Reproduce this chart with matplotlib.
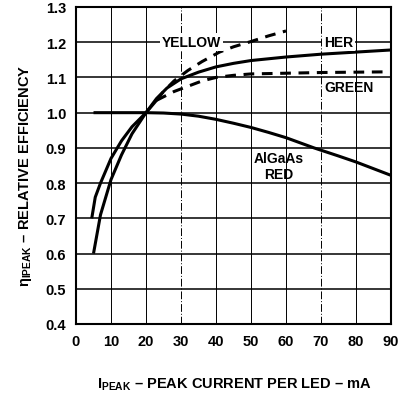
import matplotlib
matplotlib.use("Agg")
import matplotlib.pyplot as plt

plt.rcParams['font.family'] = ['Liberation Sans', 'DejaVu Sans']
plt.rcParams['font.weight'] = 'bold'
plt.rcParams['mathtext.fontset'] = 'custom'
plt.rcParams['mathtext.rm'] = 'Liberation Sans:bold'
plt.rcParams['mathtext.it'] = 'Liberation Sans:bold'
plt.rcParams['mathtext.bf'] = 'Liberation Sans:bold'

# HER (solid)
her_x = [4.5, 5.5, 7, 10, 13, 16, 20, 23, 26, 30, 35, 40, 45, 50, 60, 70, 80, 90]
her_y = [0.70, 0.76, 0.80, 0.87, 0.92, 0.96, 1.00, 1.04, 1.07, 1.096, 1.115, 1.13, 1.14, 1.148, 1.158, 1.166, 1.172, 1.178]
# common solid start of YELLOW / GREEN
low_x = [5, 7, 10, 13, 16, 20, 23]
low_y = [0.60, 0.71, 0.81, 0.88, 0.94, 1.00, 1.035]
# YELLOW (dashed)
yel_x = [23, 25, 28, 32, 36, 41, 45, 50, 55, 60]
yel_y = [1.035, 1.06, 1.09, 1.12, 1.145, 1.172, 1.187, 1.202, 1.218, 1.232]
# GREEN (dashed)
grn_x = [23, 25, 28, 32, 36, 40, 45, 50, 60, 70, 80, 90]
grn_y = [1.035, 1.045, 1.06, 1.075, 1.09, 1.10, 1.106, 1.11, 1.112, 1.114, 1.115, 1.116]
# AlGaAs RED (solid)
red_x = [5, 10, 20, 25, 30, 35, 40, 45, 50, 55, 60, 68, 75, 80, 90]
red_y = [1.0, 1.0, 1.0, 0.999, 0.996, 0.99, 0.981, 0.97, 0.958, 0.944, 0.929, 0.90, 0.877, 0.86, 0.822]

xticks = [0, 10, 20, 30, 40, 50, 60, 70, 80, 90]
yticks = [0.4, 0.5, 0.6, 0.7, 0.8, 0.9, 1.0, 1.1, 1.2, 1.3]

fig = plt.figure(figsize=(4.05, 4.02), dpi=100)
ax = fig.add_axes([76/405, 1 - 325/402, (391-76)/405, (325-8)/402])
ax.set_xlim(0, 90)
ax.set_ylim(0.4, 1.3)

for xv in xticks[1:-1]:
    ls = (0, (8, 2, 1, 2)) if xv in (30, 70) else '-'
    ax.axvline(xv, color='black', lw=0.7, ls=ls, zorder=1)
for yv in yticks[1:-1]:
    ax.axhline(yv, color='black', lw=1.1, zorder=1)

ax.plot(her_x, her_y, color='black', lw=2.2, zorder=3, solid_capstyle='butt')
ax.plot(low_x, low_y, color='black', lw=2.2, zorder=3, solid_capstyle='butt')
ax.plot(yel_x, yel_y, color='black', lw=2.2, ls=(0, (3.5, 2.5)), zorder=3)
ax.plot(grn_x, grn_y, color='black', lw=2.2, ls=(0, (3.5, 2.5)), zorder=3)
ax.plot(red_x, red_y, color='black', lw=2.2, zorder=3, solid_capstyle='butt')

bbox = dict(facecolor='white', edgecolor='none', pad=1.5)
fs_lab = 10
ax.text(33, 1.2, 'YELLOW', ha='center', va='center', fontsize=fs_lab, fontweight='bold', bbox=bbox, zorder=4)
ax.text(75, 1.2, 'HER', ha='center', va='center', fontsize=fs_lab, fontweight='bold', bbox=bbox, zorder=4)
ax.text(78, 1.073, 'GREEN', ha='center', va='center', fontsize=fs_lab, fontweight='bold', zorder=4)
ax.text(58, 0.872, 'AlGaAs', ha='center', va='center', fontsize=fs_lab, fontweight='bold', zorder=4)
ax.text(58, 0.826, 'RED', ha='center', va='center', fontsize=fs_lab, fontweight='bold', zorder=4)

ax.set_xticks(xticks)
ax.set_yticks(yticks)
ax.set_xticklabels([str(v) for v in xticks], fontsize=10.5, fontweight='bold')
ax.set_yticklabels([f'{v:.1f}' for v in yticks], fontsize=10.5, fontweight='bold')
ax.tick_params(length=0, pad=7)
for s in ax.spines.values():
    s.set_linewidth(1.5)

fig.text(234/405, 1 - 385/402, r'$\mathrm{I_{PEAK}}$ – PEAK CURRENT PER LED – mA',
         ha='center', va='center', fontsize=10.5, fontweight='bold')
fig.text(26/405, 1 - 176/402, r'$\mathrm{η_{IPEAK}}$ – RELATIVE EFFICIENCY',
         ha='center', va='center', rotation=90, fontsize=10.5, fontweight='bold')

fig.savefig('out.png', dpi=100)
